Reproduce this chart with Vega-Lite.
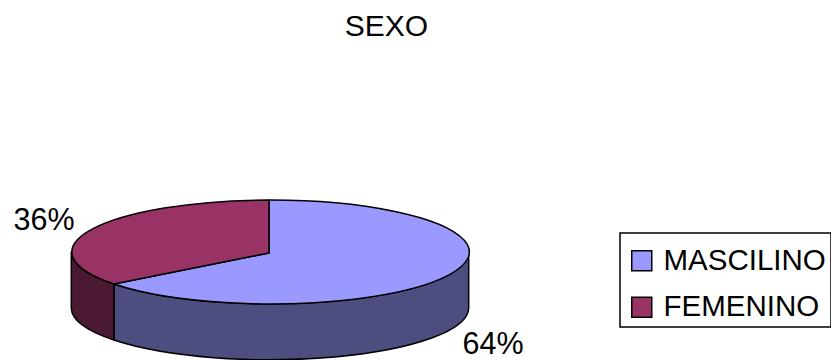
{
"$schema":"https://vega.github.io/schema/vega-lite/v6.json",
"width":831,"height":360,"padding":0,"autosize":{"type":"none"},
"background":"white",
"title":{"text":"SEXO","font":"Liberation Sans","fontSize":30,"fontWeight":"normal","color":"black","anchor":"middle","frame":"group","baseline":"alphabetic","offset":0,"dx":-29,"dy":66},
"data":{"values":[{"sexo":"MASCILINO","porcentaje":0.64},{"sexo":"FEMENINO","porcentaje":0.36}]},
"config":{"view":{"stroke":null}},
"layer":[
{"mark":{"type":"point","filled":true,"opacity":1,"size":0,"shape":"square"},
 "encoding":{"x":{"value":640},"y":{"value":260},
  "color":{"field":"sexo","type":"nominal","scale":{"domain":["MASCILINO","FEMENINO"],"range":["#9999FF","#993366"]},
   "legend":{"title":" ","titleFontSize":1,"titlePadding":7,"orient":"none","legendX":620,"legendY":233,"strokeColor":"black","padding":5,"symbolOffset":2,"symbolType":"square","symbolSize":400,"symbolStrokeColor":"black","symbolStrokeWidth":1.5,"symbolOpacity":1,"labelFont":"Liberation Sans","labelFontSize":29.5,"labelColor":"black","labelLimit":400,"labelOffset":7,"rowPadding":15.5,"values":["MASCILINO","FEMENINO"],"encode":{"legend":{"update":{"strokeWidth":{"value":1.5}}}}}}}},
{"mark":{"type":"point","filled":true,"opacity":1,"size":4,"stroke":"black","strokeWidth":1.5,"strokeJoin":"round"},
 "encoding":{"x":{"value":270},"y":{"value":252},
  "shape":{"field":"sexo","type":"nominal","legend":null,"scale":{"domain":["MASCILINO","FEMENINO"],"range":["M-156,32 L-156,88 A198.7,52 0 0 0 198.7,56 L198.7,0 A198.7,52 0 0 1 -156,32 Z","M-198.7,0 L-198.7,56 A198.7,52 0 0 0 -156,88 L-156,32 A198.7,52 0 0 1 -198.7,0 Z"]}},
  "color":{"field":"sexo","type":"nominal","legend":null,"scale":{"domain":["MASCILINO","FEMENINO"],"range":["#4D4D80","#4C1933"]}}}},
{"mark":{"type":"point","filled":true,"opacity":1,"size":4,"stroke":"black","strokeWidth":1.5,"strokeJoin":"round"},
 "encoding":{"x":{"value":270},"y":{"value":252},
  "shape":{"field":"sexo","type":"nominal","legend":null,"scale":{"domain":["MASCILINO","FEMENINO"],"range":["M-1,1 L-156,32 A198.7,52 0 1 0 -1,-52 Z","M-1,1 L-1,-52 A198.7,52 0 0 0 -156,32 Z"]}},
  "color":{"field":"sexo","type":"nominal","legend":null,"scale":{"domain":["MASCILINO","FEMENINO"],"range":["#9999FF","#993366"]}}}},
{"mark":{"type":"text","font":"Liberation Sans","fontSize":30.5,"color":"black","align":"center","baseline":"alphabetic"},
 "encoding":{
  "x":{"field":"sexo","type":"nominal","axis":null,"scale":{"type":"point","padding":0,"domain":["FEMENINO","MASCILINO"],"range":[44,493]}},
  "y":{"field":"sexo","type":"nominal","axis":null,"scale":{"type":"point","padding":0,"domain":["FEMENINO","MASCILINO"],"range":[230,353.5]}},
  "text":{"field":"porcentaje","type":"quantitative","format":".0%"}}}
],
"resolve":{"scale":{"color":"independent","shape":"independent"}}
}
